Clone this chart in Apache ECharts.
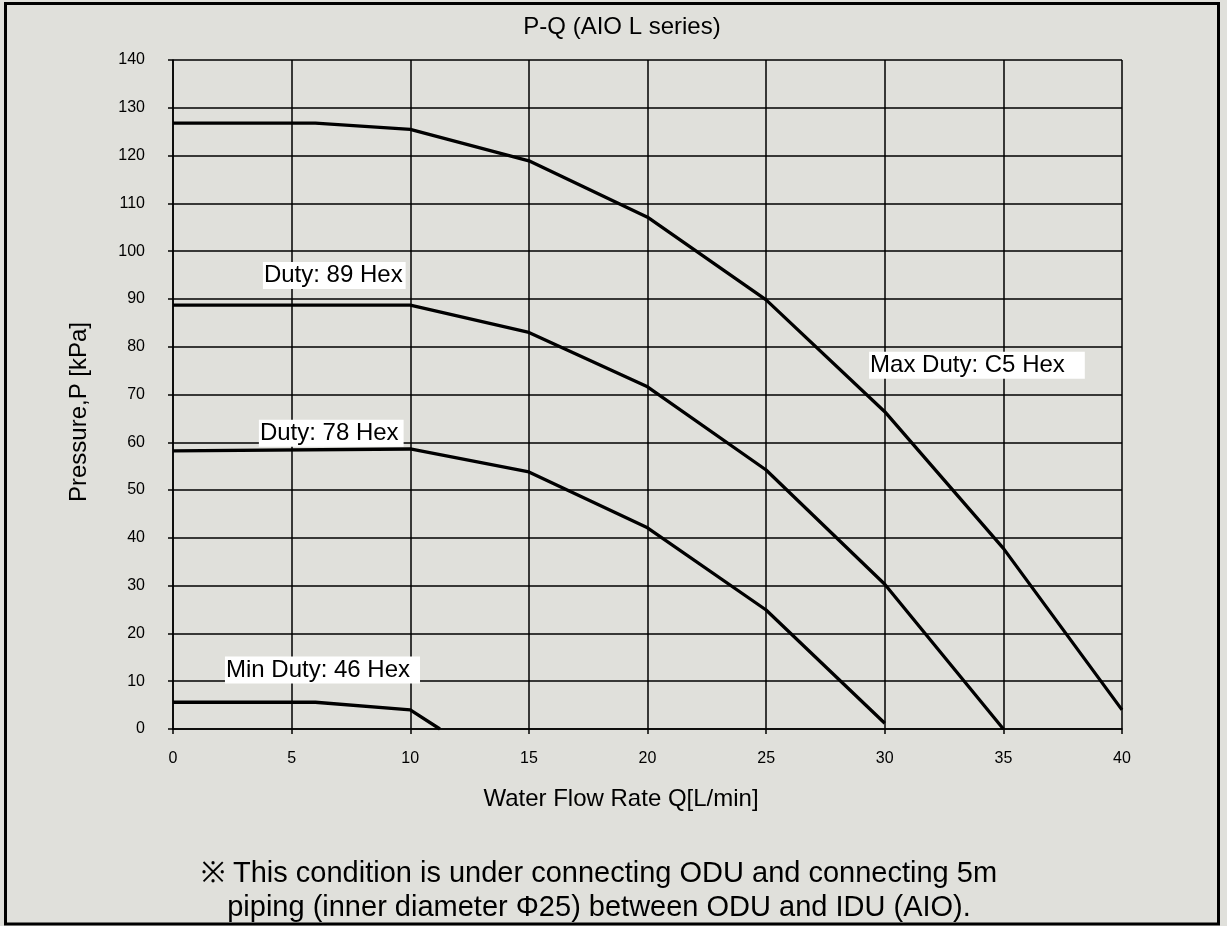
<!DOCTYPE html>
<html>
<head>
<meta charset="utf-8">
<script src="https://cdn.jsdelivr.net/npm/echarts@6/dist/echarts.min.js"></script>
<style>
html,body{margin:0;padding:0;background:#e0e0db;}
#c{width:1227px;height:926px;}
</style>
</head>
<body>
<div id="c"></div>
<script>
// ---- data ----
var maxFlow = [0, 6, 10, 15, 20, 25, 30, 35, 40];
var maxP    = [126.8, 126.8, 125.5, 118.9, 107.1, 89.8, 66.4, 37.8, 4.0];
var d89Flow = [0, 10, 15, 20, 25, 30, 35];
var d89P    = [88.7, 88.7, 83.0, 71.6, 54.2, 30.3, 0];
var d78Flow = [0, 10, 15, 20, 25, 30];
var d78P    = [58.2, 58.6, 53.8, 42.1, 24.9, 1.2];
var minFlow = [0, 6, 10, 11.25];
var minP    = [5.6, 5.6, 4.0, 0];
var labelNames = ['Duty: 89 Hex', 'Duty: 78 Hex', 'Max Duty: C5 Hex', 'Min Duty: 46 Hex'];
var labelFlow  = [3.79, 3.62, 29.34, 2.19];
var labelP     = [94.9, 61.9, 76.1, 12.35];
var titleText = 'P-Q (AIO L series)';
var xName = 'Water Flow Rate Q[L/min]';
var yName = 'Pressure,P [kPa]';
var noteText = '\u203B This condition is under connecting ODU and connecting 5m\npiping (inner diameter \u03A625) between ODU and IDU (AIO).';

function pairs(xs, ys) { return xs.map(function (x, i) { return [x, ys[i]]; }); }

var font = '"Liberation Sans", Arial, sans-serif';
var rightPads = [3, 5, 20, 10];

var chart = echarts.init(document.getElementById('c'), null, {renderer: 'canvas'});
var lineStyle = {color: '#000', width: 3.3};
function lineSeries(xs, ys) {
  return {type: 'line', data: pairs(xs, ys), symbol: 'none', lineStyle: lineStyle, silent: true, z: 3};
}

chart.setOption({
  backgroundColor: '#e0e0db',
  animation: false,
  title: [
    {text: titleText, left: 617, top: 10, textAlign: 'center',
     textStyle: {fontFamily: font, fontSize: 24, fontWeight: 'normal', color: '#000'}},
    {text: noteText, left: 594, top: 852, textAlign: 'center',
     textStyle: {fontFamily: font, fontSize: 29, fontWeight: 'normal', color: '#000', lineHeight: 34}}
  ],
  grid: {left: 173, top: 60, right: 105, bottom: 197, containLabel: false},
  xAxis: {
    type: 'value', min: 0, max: 40, interval: 5,
    name: xName, nameLocation: 'middle', nameGap: 58,
    nameTextStyle: {fontFamily: font, fontSize: 24, color: '#000', padding: [0, 53, 0, 0]},
    axisLine: {show: true, lineStyle: {color: '#000', width: 1.5}},
    axisTick: {show: true, length: 5, lineStyle: {color: '#000', width: 1.5}},
    axisLabel: {fontFamily: font, fontSize: 16, color: '#000', margin: 22},
    splitLine: {show: true, lineStyle: {color: '#000', width: 1.5}}
  },
  yAxis: {
    type: 'value', min: 0, max: 140, interval: 10,
    name: yName, nameLocation: 'middle', nameGap: 82, nameRotate: 90,
    nameTextStyle: {fontFamily: font, fontSize: 24, color: '#000', padding: [0, 35, 0, 0]},
    axisLine: {show: true, lineStyle: {color: '#000', width: 1.5}},
    axisTick: {show: true, length: 5, lineStyle: {color: '#000', width: 1.5}},
    axisLabel: {fontFamily: font, fontSize: 16, color: '#000', margin: 28},
    splitLine: {show: true, lineStyle: {color: '#000', width: 1.5}}
  },
  series: [
    lineSeries(maxFlow, maxP),
    lineSeries(d89Flow, d89P),
    lineSeries(d78Flow, d78P),
    lineSeries(minFlow, minP),
    {
      type: 'scatter', symbolSize: 0, silent: true, z: 5,
      itemStyle: {opacity: 1},
      data: labelNames.map(function (n, i) {
        return {value: [labelFlow[i], labelP[i]], name: n,
                label: {padding: [2, rightPads[i], 1, 1]}};
      }),
      label: {
        show: true, position: 'right', distance: 0,
        formatter: function (p) { return p.name; },
        fontFamily: font, fontSize: 24, color: '#000', lineHeight: 24,
        backgroundColor: '#ffffff', opacity: 1
      }
    }
  ],
  graphic: [{
    type: 'rect', silent: true, z: 100,
    shape: {x: 5.5, y: 3.5, width: 1213, height: 920.5},
    style: {fill: 'none', stroke: '#000', lineWidth: 3}
  }]
});
</script>
</body>
</html>
